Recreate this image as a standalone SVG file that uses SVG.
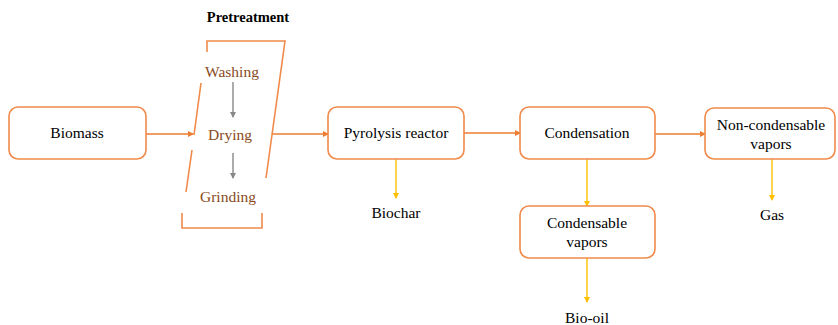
<svg xmlns="http://www.w3.org/2000/svg" width="838" height="325" viewBox="0 0 838 325">
<defs>
<style>
.box{fill:#fff;stroke:#F08A4B;stroke-width:1.6}
text{font-family:'Liberation Serif','Times New Roman',Times,serif;font-size:15.5px;text-anchor:middle}
.t{fill:#000}
.h{fill:#000;font-weight:bold;font-size:14.5px}
.b{fill:#8a4a22}
.main{stroke:#ED7D31;stroke-width:1.4;fill:none}
.prod{stroke:#FFC000;stroke-width:1.4;fill:none}
.gray{stroke:#888;stroke-width:1.4;fill:none}
.pg{stroke:#F08A4B;stroke-width:1.6;fill:none}
</style>
<marker id="mo" markerWidth="6" markerHeight="6" refX="5" refY="3" orient="auto" markerUnits="userSpaceOnUse"><path d="M0,0 L6,3 L0,6 Z" fill="#ED7D31"/></marker>
<marker id="my" markerWidth="6" markerHeight="6" refX="5" refY="3" orient="auto" markerUnits="userSpaceOnUse"><path d="M0,0 L6,3 L0,6 Z" fill="#FFC000"/></marker>
<marker id="mg" markerWidth="6" markerHeight="6" refX="5" refY="3" orient="auto" markerUnits="userSpaceOnUse"><path d="M0,0 L6,3 L0,6 Z" fill="#888"/></marker>
</defs>
<rect width="838" height="325" fill="#fff"/>

<g id="connectors">
<line class="main" x1="146" y1="134" x2="193" y2="134" marker-end="url(#mo)"/>
<line class="main" x1="272" y1="134" x2="328" y2="134" marker-end="url(#mo)"/>
<line class="main" x1="464" y1="133" x2="520" y2="133" marker-end="url(#mo)"/>
<line class="main" x1="655" y1="134" x2="705" y2="134" marker-end="url(#mo)"/>
<line class="gray" x1="233" y1="82" x2="233" y2="117" marker-end="url(#mg)"/>
<line class="gray" x1="233" y1="153" x2="233" y2="178" marker-end="url(#mg)"/>
<line class="prod" x1="396" y1="159" x2="396" y2="198" marker-end="url(#my)"/>
<line class="prod" x1="587" y1="159" x2="587" y2="206" marker-end="url(#my)"/>
<line class="prod" x1="587" y1="258" x2="587" y2="302" marker-end="url(#my)"/>
<line class="prod" x1="772" y1="159" x2="772" y2="200" marker-end="url(#my)"/>
</g>

<g id="biomass">
<rect class="box" x="9" y="107" width="137" height="52" rx="9"/>
<text class="t" x="77" y="138">Biomass</text>
</g>

<g id="pretreatment">
<path class="pg" d="M207,52 V41 H285 L266,178"/>
<path class="pg" d="M201,83 L194,135 M192,150 L186,192"/>
<path class="pg" d="M182,213 V228 H262 V213"/>
<text class="h" x="248" y="22">Pretreatment</text>
<text class="b" x="232" y="77">Washing</text>
<text class="b" x="230" y="140">Drying</text>
<text class="b" x="228" y="202">Grinding</text>
</g>

<g id="pyrolysis">
<rect class="box" x="328" y="107" width="136" height="52" rx="9"/>
<text class="t" x="396" y="138">Pyrolysis reactor</text>
</g>

<g id="condensation">
<rect class="box" x="520" y="107" width="135" height="52" rx="9"/>
<text class="t" x="587" y="138">Condensation</text>
</g>

<g id="noncondensable">
<rect class="box" x="705" y="108" width="130" height="51" rx="9"/>
<text class="t" x="771" y="130">Non-condensable</text>
<text class="t" x="771" y="149">vapors</text>
</g>

<g id="condensable">
<rect class="box" x="520" y="206" width="135" height="52" rx="9"/>
<text class="t" x="587" y="228">Condensable</text>
<text class="t" x="587" y="247">vapors</text>
</g>

<g id="biochar"><text class="t" x="396" y="218">Biochar</text></g>
<g id="biooil"><text class="t" x="587" y="323">Bio-oil</text></g>
<g id="gas"><text class="t" x="772" y="220">Gas</text></g>
</svg>
